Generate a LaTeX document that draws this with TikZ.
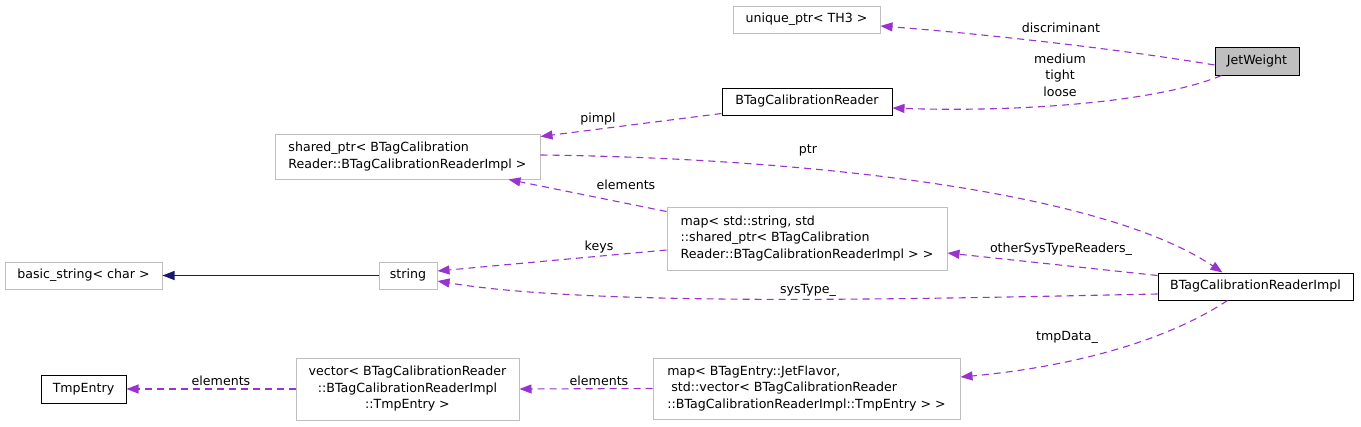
\documentclass[tikz,border=0pt]{standalone}
\usepackage{fontspec}
\setmainfont{DejaVu Sans}
\usetikzlibrary{arrows.meta,calc}
\definecolor{edgepurple}{HTML}{9A32CD}
\definecolor{edgenavy}{HTML}{191970}
\definecolor{boxgray}{HTML}{BFBFBF}
\begin{document}
\begin{tikzpicture}[x=1pt,y=-1pt,
  every node/.style={font=\fontsize{12.6}{16.5}\selectfont, inner sep=0pt, text=black},
  gbox/.style={draw=boxgray, line width=1pt, fill=white},
  kbox/.style={draw=black, line width=1pt, fill=white},
  rel/.style={draw=edgepurple, line width=1.1pt, dash pattern=on 7pt off 5pt, -{Triangle[length=12pt,width=9pt]}},
  inh/.style={draw=edgenavy, line width=1.1pt, -{Triangle[length=12pt,width=9pt]}}]
\useasboundingbox (0,0) rectangle (1361,426);
% nodes
\node[gbox, minimum width=147pt, minimum height=27pt] (uq) at (806.5,19.5) {unique\_ptr< TH3 >};
\node[kbox, fill=boxgray, minimum width=84pt, minimum height=28pt] (jw) at (1257,61) {JetWeight};
\node[kbox, minimum width=170pt, minimum height=27pt] (btr) at (807,101.5) {BTagCalibrationReader};
\node[gbox, minimum width=265pt, minimum height=45pt, align=left] (sp) at (407.5,156.5) {shared\_ptr< BTagCalibration\\Reader::BTagCalibrationReaderImpl >};
\node[gbox, minimum width=280pt, minimum height=63pt, align=left] (ms) at (807,238.5) {map< std::string, std\\::shared\_ptr< BTagCalibration\\Reader::BTagCalibrationReaderImpl > >};
\node[gbox, minimum width=157pt, minimum height=27pt] (bs) at (83.5,275.5) {basic\_string< char >};
\node[gbox, minimum width=58pt, minimum height=27pt] (str) at (408,275.5) {string};
\node[kbox, minimum width=195pt, minimum height=27pt] (impl) at (1255.5,286.5) {BTagCalibrationReaderImpl};
\node[kbox, minimum width=85pt, minimum height=28pt] (tmp) at (83.5,389) {TmpEntry};
\node[gbox, minimum width=223pt, minimum height=62pt, align=center] (vec) at (407.5,389) {vector< BTagCalibrationReader\\::BTagCalibrationReaderImpl\\::TmpEntry >};
\node[gbox, minimum width=307pt, minimum height=61pt, align=left] (mj) at (806.5,388.5) {map< BTagEntry::JetFlavor,\\\ std::vector< BTagCalibrationReader\\::BTagCalibrationReaderImpl::TmpEntry > >};
% edges
\draw[rel] ([yshift=-4pt]jw.west) .. controls (1100,46) and (960,32) .. ([yshift=-6.5pt]uq.east);
\draw[rel] ([xshift=7pt]jw.south west) .. controls (1150,105) and (1000,112) .. ([yshift=-6.5pt]btr.east);
\draw[rel] ([yshift=2pt]btr.south west) -- ([yshift=-3pt]sp.north east);
\draw[rel] ([yshift=1.5pt]sp.east) .. controls (800,158) and (1100,190) .. ([xshift=65pt]impl.north west);
\draw[rel] ([yshift=-5pt]ms.north west) -- ([xshift=-32pt]sp.south east);
\draw[rel] ([yshift=-11.5pt]ms.west) -- ([yshift=4.5pt]str.east);
\draw[inh] (str.west) -- (bs.east);
\draw[rel] ([yshift=-3pt]impl.north west) -- ([yshift=-14.5pt]ms.east);
\draw[rel] ([yshift=-7.5pt]impl.west) .. controls (950,298) and (600,308) .. ([yshift=-5.5pt]str.east);
\draw[rel] ([xshift=70pt]impl.south west) .. controls (1160,345) and (1060,368) .. ([yshift=11.5pt]mj.east);
\draw[rel] (mj.west) -- (vec.east);
\draw[rel] (vec.west) -- (tmp.east);
% labels
\node (l1) at (1061,28) {discriminant};
\node[align=center] (l2) at (1060,75) {medium\\tight\\loose};
\node (l3) at (598,119) {pimpl};
\node (l4) at (808,150) {ptr};
\node (l5) at (626,185) {elements};
\node (l6) at (599,247) {keys};
\node (l7) at (1061,249) {otherSysTypeReaders\_};
\node (l8) at (808,290) {sysType\_};
\node (l9) at (1067,337) {tmpData\_};
\node (l10) at (599,381) {elements};
\node (l11) at (221,381) {elements};
\end{tikzpicture}
\end{document}
